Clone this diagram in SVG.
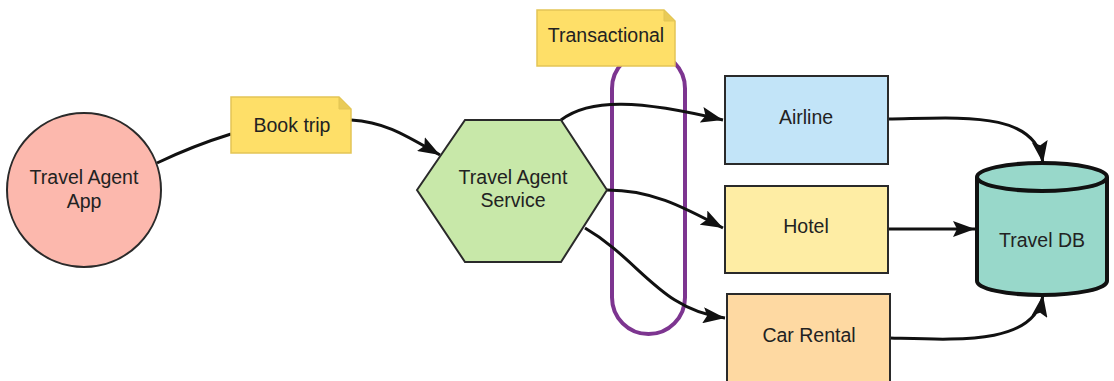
<svg xmlns="http://www.w3.org/2000/svg" width="1114" height="381" viewBox="0 0 1114 381">
<style>
text{font-family:"Liberation Sans",Arial,sans-serif;font-size:19.5px;fill:#222;text-anchor:middle}
.n{stroke:#2a2a2a;stroke-width:2}
.note{fill:#fedf68;stroke:#e3c555;stroke-width:1.5}
.fold{fill:#e9cb57;stroke:#e3c555;stroke-width:1}
.c{fill:none;stroke:#111;stroke-width:3}
</style>
<defs>
<marker id="b" viewBox="0 0 22 16" refX="22" refY="8" markerWidth="22" markerHeight="16" markerUnits="userSpaceOnUse" orient="auto">
<path d="M0,0 L22,8 L0,16 L4,8 Z" fill="#111"/>
</marker>
</defs>
<g id="pill"><rect x="612" y="52" width="73" height="282" rx="36.5" fill="none" stroke="#7d3590" stroke-width="4"/></g>
<g id="connectors">
<path class="c" d="M157,163 C180,152 205,142 231,134"/>
<path class="c" d="M351,120 C385,122 405,135 440,155" marker-end="url(#b)"/>
<path class="c" d="M561,120 C590,98 640,100 723,120" marker-end="url(#b)"/>
<path class="c" d="M607,190 C650,190 680,205 723,228" marker-end="url(#b)"/>
<path class="c" d="M585,228 C640,260 660,310 725,318" marker-end="url(#b)"/>
<path class="c" d="M888,119 C960,118 1035,110 1043,163" marker-end="url(#b)"/>
<path class="c" d="M888,229 L975,229" marker-end="url(#b)"/>
<path class="c" d="M890,338 C960,340 1035,345 1043,295" marker-end="url(#b)"/>
</g>
<g id="app"><circle cx="84" cy="190" r="77" fill="#fcb8ad" class="n"/><text x="84" y="184">Travel Agent</text><text x="84" y="208">App</text></g>
<g id="booktrip"><path class="note" d="M231,97 H339 L351,109 V153 H231 Z"/><path class="fold" d="M339,97 L351,109 H339 Z"/><text x="292" y="132">Book trip</text></g>
<g id="service"><polygon points="417,190 465,120 561,120 607,190 561,262 465,262" fill="#c8e8a9" class="n"/><text x="513" y="184">Travel Agent</text><text x="513" y="207">Service</text></g>
<g id="transactional"><path class="note" d="M537,10 H664 L675,21 V66 H537 Z"/><path class="fold" d="M664,10 L675,21 H664 Z"/><text x="606" y="42">Transactional</text></g>
<g id="airline"><rect x="725" y="76" width="163" height="88" fill="#c2e4f8" class="n"/><text x="806" y="124">Airline</text></g>
<g id="hotel"><rect x="725" y="186" width="163" height="87" fill="#feeda4" class="n"/><text x="806" y="233">Hotel</text></g>
<g id="car"><rect x="727" y="294" width="163" height="100" fill="#fed9a2" class="n"/><text x="809" y="342">Car Rental</text></g>
<g id="db"><path d="M977,177 V281 A65,14 0 0 0 1107,281 V177" fill="#98d8ca" stroke="#111" stroke-width="4"/><ellipse cx="1042" cy="177" rx="65" ry="14" fill="#98d8ca" stroke="#111" stroke-width="4"/><text x="1042" y="247">Travel DB</text></g>
</svg>
